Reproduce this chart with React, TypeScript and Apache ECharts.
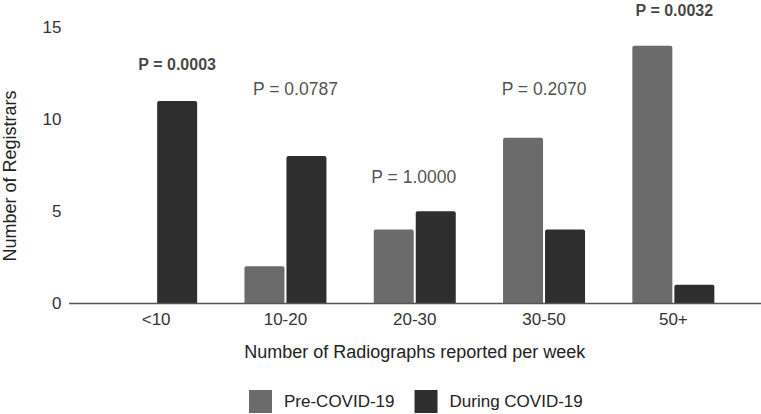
import React, { useEffect, useRef } from "react";
import * as echarts from "echarts";

const categories = ["<10", "10-20", "20-30", "30-50", "50+"];
const preCovid = [0, 2, 4, 9, 14];
const duringCovid = [11, 8, 5, 4, 1];
const yTicks = [0, 5, 10, 15];
const pValueTexts = ["P = 0.0003", "P = 0.0787", "P = 1.0000", "P = 0.2070", "P = 0.0032"];
const pValueHeights = [12.96, 11.63, 6.88, 11.63, 15.95];
const pValueBold = [true, false, false, false, true];
const pValueShift = [21, 10, -1, 0, 1];

const FONT = "'Liberation Sans', Arial, Helvetica, sans-serif";

export default function App() {
  const ref = useRef<HTMLDivElement>(null);
  useEffect(() => {
    if (!ref.current) return;
    const chart = echarts.init(ref.current, null, { renderer: "svg" });
    chart.setOption({
      animation: false,
      backgroundColor: "#ffffff",
      textStyle: { fontFamily: FONT },
      grid: { left: 91.5, right: 23, top: 27.5, bottom: 111 },
      legend: {
        data: ["Pre-COVID-19", "During COVID-19"],
        left: 244,
        top: 385,
        icon: "rect",
        itemWidth: 23,
        itemHeight: 23,
        itemGap: 20,
        textStyle: { fontSize: 17, color: "#222", fontFamily: FONT, padding: [0, 0, 0, 7] },
      },
      xAxis: {
        type: "category",
        data: categories,
        axisLine: { show: false },
        axisTick: { show: false },
        axisLabel: { fontSize: 17, color: "#333", margin: 8, fontFamily: FONT },
        name: "Number of Radiographs reported per week",
        nameLocation: "middle",
        nameGap: 40,
        nameTextStyle: { fontSize: 18, color: "#222", fontFamily: FONT },
      },
      yAxis: {
        type: "value",
        min: yTicks[0],
        max: yTicks[yTicks.length - 1],
        interval: 5,
        splitLine: { show: false },
        axisLine: { show: false },
        axisTick: { show: false },
        axisLabel: { fontSize: 17, color: "#333", margin: 30, fontFamily: FONT },
      },
      graphic: [
        {
          type: "line",
          shape: { x1: 69, y1: 303.5, x2: 761, y2: 303.5 },
          style: { stroke: "#555", lineWidth: 1.5 },
          z: 10,
        },
        {
          type: "text",
          x: 10,
          y: 176,
          rotation: Math.PI / 2,
          style: {
            text: "Number of Registrars",
            align: "center",
            verticalAlign: "middle",
            font: `18px ${FONT}`,
            fill: "#222",
          },
        },
      ],
      series: [
        {
          name: "Pre-COVID-19",
          type: "bar",
          data: preCovid,
          barWidth: 40,
          barGap: "5%",
          itemStyle: { color: "#6b6b6b", borderRadius: [2, 2, 0, 0] },
        },
        {
          name: "During COVID-19",
          type: "bar",
          data: duringCovid,
          barWidth: 40,
          barGap: "5%",
          itemStyle: { color: "#2e2e2e", borderRadius: [2, 2, 0, 0] },
        },
        {
          name: "pvalues",
          type: "scatter",
          clip: false,
          symbolSize: 1,
          itemStyle: { color: "rgba(0,0,0,0)" },
          silent: true,
          data: pValueTexts.map((t, i) => ({
            value: [i, pValueHeights[i]],
            label: {
              show: true,
              position: "inside",
              formatter: t,
              offset: [pValueShift[i], 0],
              fontSize: pValueBold[i] ? 16 : 17.5,
              fontWeight: pValueBold[i] ? "bold" : "normal",
              color: pValueBold[i] ? "#111" : "#222",
              fontFamily: FONT,
            },
          })),
        },
      ],
    });
    return () => chart.dispose();
  }, []);
  return <div ref={ref} style={{ width: 761, height: 414, position: "absolute", left: 0, top: 0 }} />;
}
